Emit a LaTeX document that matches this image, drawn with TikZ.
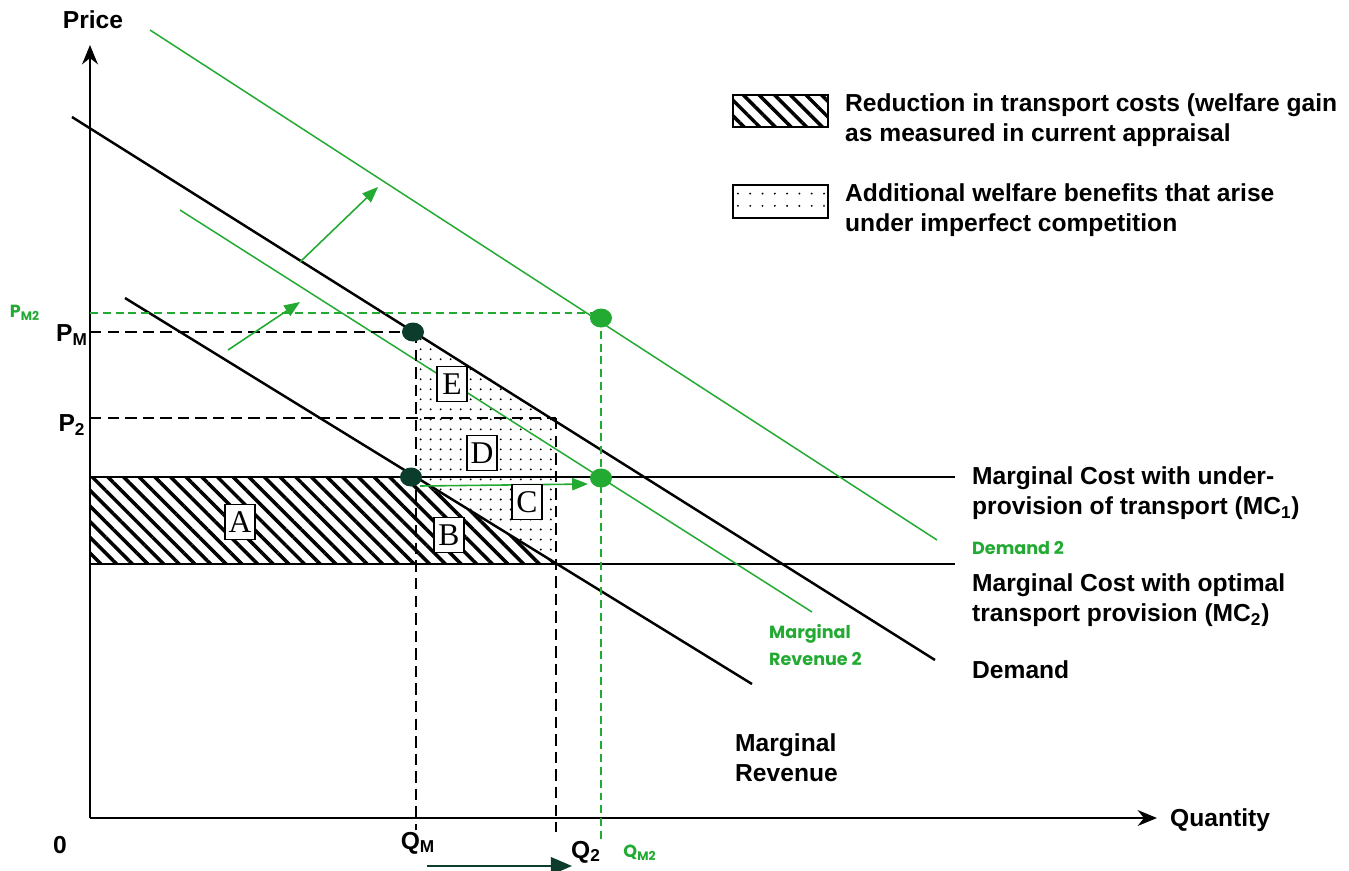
\documentclass[tikz,border=0pt]{standalone}
\usepackage{fontspec}
\setmainfont{Liberation Sans}
\newfontfamily\boxfont{Liberation Serif}
\newfontfamily\greenfont{Poppins}
\usetikzlibrary{arrows.meta,patterns.meta,shapes.geometric}
\definecolor{lgreen}{RGB}{34,170,51}
\definecolor{dgreen}{RGB}{12,60,44}
\tikzset{
	curve/.style={line width=1.4pt},
	gcurve/.style={lgreen,line width=0.85pt},
	guide/.style={line width=1.1pt,dash pattern=on 6.5pt off 3.5pt},
	gguide/.style={lgreen,line width=0.7pt,dash pattern=on 4.5pt off 2.8pt},
	hatch/.style={pattern={Lines[angle=-45,distance=6.3pt,line width=2pt]}},
	dotty/.style={pattern={Dots[distance=5.7pt,radius=0.6pt]}},
	garrow/.style={lgreen,line width=0.9pt,-{Triangle[length=9pt,width=7pt]}},
	lbl/.style={font=\bfseries\fontsize{14}{17}\selectfont,align=left,anchor=west},
	glbl/.style={text=lgreen,font=\greenfont\bfseries\fontsize{10}{15}\selectfont,align=left,anchor=west}
}
\begin{document}
\begin{tikzpicture}[x=0.02cm,y=-0.02cm]
	\useasboundingbox (0,0) rectangle (1349,870);
	% shaded areas
	\fill[hatch] (90,477) -- (413,477) -- (556,564) -- (90,564) -- cycle;
	\fill[dotty] (416,332) -- (556,420) -- (556,564) -- (416,477) -- cycle;
	\draw[hatch,line width=1pt] (733,95) rectangle (828,127);
	\draw[pattern={Dots[distance=7pt,radius=0.6pt]},line width=1pt] (733,185) rectangle (828,218);
	% axes
	\draw[line width=1.3pt,-{Stealth[length=11pt,width=9pt]}] (90,818) -- (90,45);
	\draw[line width=1.3pt,-{Stealth[length=11pt,width=9pt]}] (90,818) -- (1157,818);
	% curves
	\coordinate (d1) at (72,117);   \coordinate (d2) at (935,660);
	\coordinate (mr1) at (125,298); \coordinate (mr2) at (752,684);
	\coordinate (gd1) at (150,30);  \coordinate (gd2) at (937,540);
	\coordinate (gmr1) at (180,210); \coordinate (gmr2) at (812,612);
	\draw[curve] (d1) -- (d2);
	\draw[curve] (mr1) -- (mr2);
	\draw[curve] (90,477) -- (955,477);
	\draw[curve] (90,564) -- (955,564);
	\draw[gcurve] (gd1) -- (gd2);
	\draw[gcurve] (gmr1) -- (gmr2);
	% guide lines
	\draw[guide] (90,332) -- (413,332);
	\draw[guide] (90,418) -- (556,418);
	\draw[guide] (416,332) -- (416,830);
	\draw[guide] (556,418) -- (556,832);
	\draw[gguide] (90,313) -- (601,313);
	\draw[gguide] (601,318) -- (601,842);
	% points
	\begin{scope}[every node/.style={ellipse,inner sep=0pt,minimum width=0.44cm,minimum height=0.38cm}]
		\node[fill=dgreen] (pm) at (413,332) {};
		\node[fill=dgreen] (qm) at (411,477) {};
		\node[fill=lgreen] (pm2) at (601,318) {};
		\node[fill=lgreen] (qm2) at (601,478) {};
	\end{scope}
	% shift arrows
	\coordinate (s1) at (300,262); \coordinate (e1) at (378,187);
	\coordinate (s2) at (228,350); \coordinate (e2) at (300,302);
	\coordinate (s3) at (420,486); \coordinate (e3) at (588,484);
	\coordinate (s4) at (427,866); \coordinate (e4) at (572,866);
	\draw[garrow] (s1) -- (e1);
	\draw[garrow] (s2) -- (e2);
	\draw[garrow] (s3) -- (e3);
	\draw[dgreen,line width=1.1pt,-{Triangle[length=12pt,width=10pt]}] (s4) -- (e4);
	% area labels
	\begin{scope}[every node/.style={draw,fill=white,line width=1pt,inner sep=0pt,minimum width=0.6cm,minimum height=0.7cm,font=\boxfont\fontsize{18}{18}\selectfont}]
		\node (A) at (240,522) {A};
		\node (B) at (449,535) {B};
		\node (C) at (527,502) {C};
		\node (D) at (482,453) {D};
		\node (E) at (452,384) {E};
	\end{scope}
	% axis labels
	\begin{scope}[every node/.style={font=\bfseries\fontsize{14}{16}\selectfont}]
		\node (price) at (93,20) {Price};
		\node[anchor=west] (quantity) at (1164,820) {Quantity};
		\node (zero) at (60,845) {0};
		\node (pmlbl) at (72,335) {P\textsubscript{M}};
		\node (p2lbl) at (72,425) {P\textsubscript{2}};
		\node (qmlbl) at (418,843) {Q\textsubscript{M}};
		\node (q2lbl) at (586,852) {Q\textsubscript{2}};
	\end{scope}
	\node[glbl,anchor=center] (pm2lbl) at (25,313) {P\textsubscript{M2}};
	\node[glbl,anchor=center] (qm2lbl) at (640,853) {Q\textsubscript{M2}};
	% curve labels
	\node[lbl] (mc1lbl) at (966,493) {Marginal Cost with under-\\provision of transport (MC\textsubscript{1})};
	\node[lbl] (mc2lbl) at (966,600) {Marginal Cost with optimal\\transport provision (MC\textsubscript{2})};
	\node[lbl] (dlbl) at (966,670) {Demand};
	\node[lbl] (mrlbl) at (729,758) {Marginal\\Revenue};
	\node[glbl] (gdlbl) at (966,548) {Demand 2};
	\node[glbl] (gmrlbl) at (763,645) {Marginal\\Revenue 2};
	% legend
	\node[lbl] (leg1) at (839,120) {Reduction in transport costs (welfare gain\\as measured in current appraisal};
	\node[lbl] (leg2) at (839,210) {Additional welfare benefits that arise\\under imperfect competition};
\end{tikzpicture}
\end{document}
